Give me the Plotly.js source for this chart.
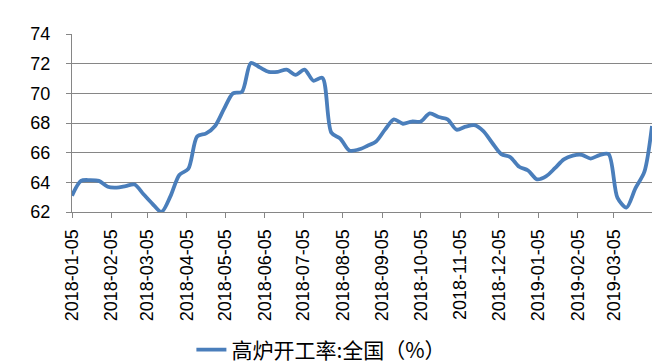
<!DOCTYPE html>
<html>
<head>
<meta charset="utf-8">
<script src="https://cdn.plot.ly/plotly-3.0.1.min.js"></script>
<style>html,body{margin:0;padding:0;background:#fff;}#chart{width:652px;height:364px;}</style>
</head>
<body>
<div id="chart"></div>
<script>
// Weekly dates (Fridays from 2018-01-05), last release on 2019-04-04
const weekStarts = ["2018-01-05","2018-01-12","2018-01-19","2018-01-26","2018-02-02","2018-02-09","2018-02-16","2018-02-23",
"2018-03-02","2018-03-09","2018-03-16","2018-03-23","2018-03-30","2018-04-06","2018-04-13","2018-04-20","2018-04-27",
"2018-05-04","2018-05-11","2018-05-18","2018-05-25","2018-06-01","2018-06-08","2018-06-15","2018-06-22","2018-06-29",
"2018-07-06","2018-07-13","2018-07-20","2018-07-27","2018-08-03","2018-08-10","2018-08-17","2018-08-24","2018-08-31",
"2018-09-07","2018-09-14","2018-09-21","2018-09-28","2018-10-05","2018-10-12","2018-10-19","2018-10-26","2018-11-02",
"2018-11-09","2018-11-16","2018-11-23","2018-11-30","2018-12-07","2018-12-14","2018-12-21","2018-12-28","2019-01-04",
"2019-01-11","2019-01-18","2019-01-25","2019-02-01","2019-02-08","2019-02-15","2019-02-22","2019-03-01","2019-03-08",
"2019-03-15","2019-03-22","2019-03-29","2019-04-04"];
const rateValues = [63.1,64.1,64.15,64.1,63.7,63.65,63.75,63.85,
63.2,62.55,62.0,63.05,64.5,64.9,67.1,67.3,67.8,
68.95,70.0,70.1,72.05,71.75,71.45,71.45,71.6,71.25,
71.6,70.85,71.05,67.35,66.95,66.15,66.2,66.45,66.75,
67.55,68.25,67.95,68.1,68.1,68.65,68.4,68.25,67.55,
67.75,67.85,67.45,66.65,65.9,65.7,65.05,64.8,64.2,
64.4,64.95,65.55,65.8,65.85,65.6,65.84,65.9,62.95,
62.3,63.6,64.7,67.8];
const tickDates = ["2018-01-05","2018-02-05","2018-03-05","2018-04-05","2018-05-05","2018-06-05","2018-07-05","2018-08-05",
"2018-09-05","2018-10-05","2018-11-05","2018-12-05","2019-01-05","2019-02-05","2019-03-05"];
const tickLabels = tickDates.slice();
const seriesName = "高炉开工率:全国（%）";

const axisGray = "#868686";
const trace = {
  x: weekStarts, y: rateValues, type: "scatter", mode: "lines", name: seriesName,
  line: {color: "#4a7ebb", width: 3.8, shape: "spline", smoothing: 0.8}
};
const layout = {
  width: 652, height: 364,
  margin: {l: 72, r: 0, t: 34, b: 152, autoexpand: false},
  paper_bgcolor: "#fff", plot_bgcolor: "#fff",
  showlegend: true,
  legend: {orientation: "h", x: 0.43, xanchor: "center", y: -0.775, yanchor: "middle",
    font: {family: "Noto Sans CJK SC", size: 21, color: "#000"}},
  xaxis: {type: "date", range: ["2018-01-05", "2019-04-04"], tickmode: "array",
    tickvals: tickDates, ticktext: tickLabels, tickangle: -90,
    showgrid: false, showline: true, linecolor: axisGray, linewidth: 1,
    ticks: "outside", ticklen: 5, tickcolor: axisGray, ticklabelstandoff: 4,
    tickfont: {family: "Liberation Sans", size: 18, color: "#000"}, zeroline: false},
  yaxis: {range: [62, 74], dtick: 2, tick0: 62, showgrid: true, gridcolor: axisGray, gridwidth: 1,
    showline: true, linecolor: axisGray, ticks: "outside", ticklen: 5, tickcolor: axisGray,
    ticklabelstandoff: 12,
    tickfont: {family: "Liberation Sans", size: 18, color: "#000"}, zeroline: false}
};
Plotly.newPlot("chart", [trace], layout, {staticPlot: true, displayModeBar: false});
</script>
</body>
</html>
